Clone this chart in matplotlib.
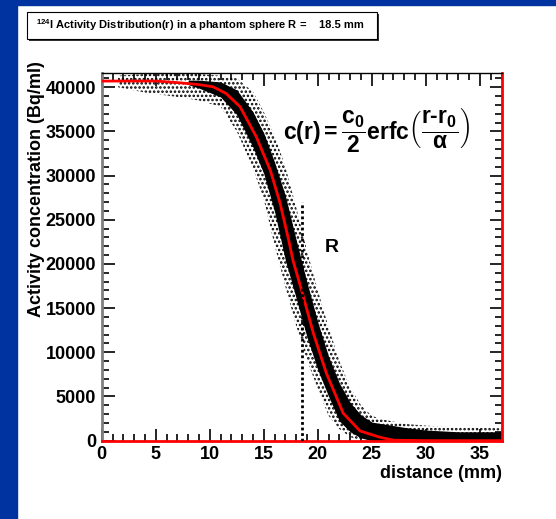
import numpy as np
import matplotlib.pyplot as plt
from matplotlib.patches import Rectangle
from matplotlib.ticker import MultipleLocator

plt.rcParams['font.family'] = ['Liberation Sans', 'DejaVu Sans']
plt.rcParams['font.weight'] = 'bold'
plt.rcParams['mathtext.fontset'] = 'custom'
plt.rcParams['mathtext.rm'] = 'Liberation Sans:bold'
plt.rcParams['mathtext.it'] = 'Liberation Sans:bold'
plt.rcParams['mathtext.bf'] = 'Liberation Sans:bold'
plt.rcParams['hatch.linewidth'] = 1.2

# fitted erfc curve (mm, Bq/ml)
fit_r = [0, 5, 7.25, 9, 10.3, 11.5, 12.8, 14.3, 15.6, 16.5, 17.3, 17.7, 18.5,
         19.6, 20.8, 22.35, 23.9, 25.7, 27, 30, 37]
fit_c = [40700, 40700, 40500, 40300, 40050, 39300, 37800, 34400, 30600, 26900,
         22700, 20400, 17000, 12100, 7600, 3100, 1100, 400, 50, 0, 0]

# envelope of the measured voxel cloud (sparse outer part and dense core)
band_r = [1.5, 4, 7, 9, 11, 12.5, 14, 15, 16, 17, 18, 19, 20, 21, 22, 23,
          24, 25, 26, 28, 30, 33, 37]
outer_hi = [41300, 41500, 41600, 41500, 41300, 41000, 39500, 37200, 34500,
            31000, 26400, 21500, 17000, 12800, 9000, 6000, 4000, 2800, 2400,
            1900, 1700, 1500, 1400]
outer_lo = [40000, 39400, 38900, 38500, 37800, 35000, 30800, 27300, 22100,
            17400, 13000, 9100, 5850, 2800, 1300, 400, 0, 0, 0, 0, 0, 0, 0]

core_r = [8, 9, 11, 12.5, 14, 15, 16, 17, 18, 19, 20, 21, 22, 23, 24, 25, 26,
          28, 30, 33, 37]
core_hi = [40800, 40800, 40600, 39700, 37200, 34800, 31500, 27700, 22700,
           17900, 13400, 9500, 6500, 4300, 2900, 2100, 1900, 1500, 1200, 1000,
           1000]
core_lo = [40300, 39900, 38900, 36900, 33200, 30200, 25900, 20400, 16100,
           11700, 8000, 5000, 2200, 1000, 300, 0, 0, 0, 0, 0, 0]

R_sphere = 18.5
R_line_top = 27000

blue = '#0033a0'

fig = plt.figure(figsize=(5.56, 5.19), dpi=100)
fig.add_artist(Rectangle((0, 0), 17 / 556, 1, transform=fig.transFigure,
                         color=blue, zorder=0))
fig.add_artist(Rectangle((0, 1 - 5 / 519), 1, 5 / 519, transform=fig.transFigure,
                         color=blue, zorder=0))

ax = fig.add_axes([0.183, 0.151, 0.719, 0.709])

# scatter cloud: sparse dots outside, dense core in the middle
ax.fill_between(band_r, outer_lo, outer_hi, facecolor='none', edgecolor='black',
                hatch='....', linewidth=0, zorder=1)
ax.fill_between(core_r, core_lo, core_hi, facecolor='black', edgecolor='black',
                linewidth=0, zorder=2)

ax.plot(fit_r, fit_c, color='red', lw=2, zorder=3)
ax.plot([R_sphere, R_sphere], [0, R_line_top], color='black', lw=2,
        linestyle=(0, (1, 1)), zorder=4)

ax.set_xlim(0, 37)
ax.set_ylim(0, 41650)
ax.xaxis.set_major_locator(MultipleLocator(5))
ax.xaxis.set_minor_locator(MultipleLocator(1))
ax.yaxis.set_major_locator(MultipleLocator(5000))
ax.yaxis.set_minor_locator(MultipleLocator(1000))
ax.tick_params(which='both', direction='in', top=True, right=True,
               labelsize=13, width=1.2, pad=4)
ax.tick_params(which='major', length=9)
ax.tick_params(which='minor', length=5)

ax.spines['left'].set_color('#808080')
ax.spines['left'].set_linewidth(2)
ax.spines['bottom'].set_color('red')
ax.spines['bottom'].set_linewidth(2)
ax.spines['right'].set_color('red')
ax.spines['right'].set_linewidth(2)
ax.spines['top'].set_linewidth(1)

ax.set_xlabel('distance (mm)', fontsize=13, fontweight='bold', loc='right')
ax.xaxis.set_label_coords(1.0, -0.067)
ax.set_ylabel('Activity concentration (Bq/ml)', fontsize=13, fontweight='bold',
              loc='top')
ax.yaxis.set_label_coords(-0.141, 1.03)

ax.text(0.686, 0.845,
        r'$\mathrm{c(r) = \dfrac{c_0}{2}erfc\left(\dfrac{r\text{-}r_0}{\alpha}\right)}$',
        transform=ax.transAxes, ha='center', va='center', fontsize=16.5)
ax.text(0.575, 0.526, 'R', transform=ax.transAxes, ha='center', va='center',
        fontsize=14, fontweight='bold')

# title box with shadow
bx0, by0, bw, bh = 27 / 556, 1 - 39 / 519, 350 / 556, 27 / 519
fig.add_artist(Rectangle((bx0 + 2 / 556, by0 - 2 / 519), bw, bh,
                         transform=fig.transFigure, facecolor='#333333',
                         edgecolor='none', zorder=5))
fig.add_artist(Rectangle((bx0, by0), bw, bh, transform=fig.transFigure,
                         facecolor='white', edgecolor='black', lw=0.8, zorder=6))
fig.text(bx0 + 9 / 556, by0 + bh / 2,
         r'$^{\mathrm{124}}$I Activity Distribution(r) in a phantom sphere R =',
         fontsize=8, fontweight='bold', va='center', ha='left', zorder=7)
fig.text(bx0 + 292 / 556, by0 + bh / 2, '18.5 mm', fontsize=8,
         fontweight='bold', va='center', ha='left', zorder=7)

fig.savefig('out.png', dpi=100, facecolor='white')
